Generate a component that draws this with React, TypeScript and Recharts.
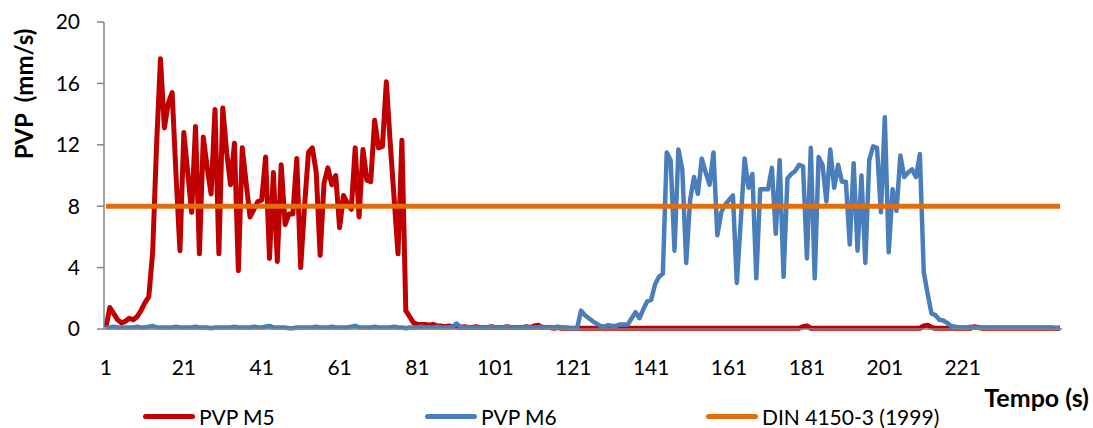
import { LineChart, Line, XAxis, YAxis, Label } from "recharts";

// PVP (mm/s) per second
const pvpM5 = [
  0.1, 1.4, 1.0, 0.6, 0.4, 0.5, 0.7, 0.6, 0.8, 1.2,
  1.7, 2.1, 5.0, 12.0, 17.6, 13.1, 14.7, 15.4, 10.0, 5.1,
  12.8, 10.2, 7.6, 13.2, 4.9, 12.5, 10.5, 8.8, 14.3, 4.9,
  14.4, 11.5, 9.4, 12.1, 3.8, 11.8, 9.5, 7.3, 7.8, 8.3,
  8.4, 11.2, 4.6, 10.2, 4.4, 10.7, 6.8, 7.5, 7.5, 11.1,
  4.0, 8.0, 11.5, 11.8, 10.2, 4.8, 9.5, 10.5, 9.4, 10.0,
  6.6, 8.7, 8.2, 7.8, 11.8, 7.3, 11.7, 9.7, 9.6, 13.6,
  11.8, 11.9, 16.1, 12.1, 8.5, 4.9, 12.3, 1.2, 0.8, 0.4,
  0.3, 0.3, 0.3, 0.25, 0.3, 0.2, 0.2, 0.15, 0.2, 0.15,
  0.15, 0.1, 0.15, 0.1, 0.1, 0.15, 0.1, 0.1, 0.1, 0.15,
  0.1, 0.1, 0.1, 0.15, 0.1, 0.1, 0.1, 0.1, 0.15, 0.1,
  0.2, 0.25, 0.1, 0.1, 0.1, 0.05, 0.1, 0.05, 0.05, 0.05,
  0.05, 0.05, 0.05, 0.05, 0.05, 0.05, 0.05, 0.05, 0.05, 0.05,
  0.05, 0.05, 0.05, 0.05, 0.05, 0.05, 0.05, 0.05, 0.05, 0.05,
  0.05, 0.05, 0.05, 0.05, 0.05, 0.05, 0.05, 0.05, 0.05, 0.05,
  0.05, 0.05, 0.05, 0.05, 0.05, 0.05, 0.05, 0.05, 0.05, 0.05,
  0.05, 0.05, 0.05, 0.05, 0.05, 0.05, 0.05, 0.05, 0.05, 0.05,
  0.05, 0.05, 0.05, 0.05, 0.05, 0.05, 0.05, 0.05, 0.05, 0.15,
  0.2, 0.05, 0.05, 0.05, 0.05, 0.05, 0.05, 0.05, 0.05, 0.05,
  0.05, 0.05, 0.05, 0.05, 0.05, 0.05, 0.05, 0.05, 0.05, 0.05,
  0.05, 0.05, 0.05, 0.05, 0.05, 0.05, 0.05, 0.05, 0.05, 0.05,
  0.2, 0.25, 0.1, 0.05, 0.05, 0.05, 0.05, 0.05, 0.05, 0.05,
  0.05, 0.05, 0.05, 0.15, 0.1, 0.05, 0.05, 0.05, 0.05, 0.05,
  0.05, 0.05, 0.05, 0.05, 0.05, 0.05, 0.05, 0.05, 0.05, 0.05,
  0.05, 0.05, 0.05, 0.05, 0.05, 0.05,
];

const pvpM6 = [
  0.1, 0.1, 0.15, 0.1, 0.1, 0.1, 0.1, 0.1, 0.15, 0.1,
  0.1, 0.15, 0.2, 0.1, 0.1, 0.1, 0.1, 0.1, 0.15, 0.1,
  0.1, 0.1, 0.1, 0.15, 0.1, 0.1, 0.1, 0.05, 0.1, 0.1,
  0.1, 0.1, 0.1, 0.15, 0.1, 0.1, 0.1, 0.1, 0.15, 0.1,
  0.1, 0.15, 0.2, 0.1, 0.1, 0.1, 0.1, 0.05, 0.05, 0.1,
  0.1, 0.1, 0.1, 0.1, 0.15, 0.1, 0.1, 0.1, 0.15, 0.1,
  0.1, 0.1, 0.1, 0.15, 0.2, 0.1, 0.1, 0.1, 0.1, 0.15,
  0.1, 0.1, 0.1, 0.1, 0.15, 0.1, 0.1, 0.05, 0.1, 0.1,
  0.1, 0.15, 0.1, 0.1, 0.1, 0.15, 0.1, 0.1, 0.1, 0.15,
  0.35, 0.15, 0.1, 0.1, 0.1, 0.1, 0.1, 0.1, 0.1, 0.15,
  0.1, 0.1, 0.1, 0.15, 0.1, 0.1, 0.1, 0.1, 0.15, 0.1,
  0.1, 0.1, 0.15, 0.1, 0.1, 0.1, 0.15, 0.1, 0.1, 0.05,
  0.05, 0.05, 1.2, 0.9, 0.7, 0.5, 0.35, 0.2, 0.15, 0.25,
  0.2, 0.2, 0.3, 0.3, 0.3, 0.7, 1.1, 0.7, 1.3, 1.8,
  1.9, 2.9, 3.4, 3.6, 11.5, 11.0, 5.1, 11.7, 10.4, 4.3,
  8.4, 9.9, 8.8, 11.1, 10.2, 9.4, 11.5, 6.1, 7.6, 8.1,
  8.4, 8.7, 3.0, 7.0, 11.1, 9.2, 10.1, 3.3, 9.1, 9.1,
  9.1, 10.5, 6.2, 11.0, 3.4, 9.8, 10.1, 10.3, 10.7, 10.6,
  4.6, 11.8, 3.3, 11.2, 10.7, 8.3, 11.7, 9.2, 10.7, 9.6,
  9.6, 5.5, 10.8, 5.1, 10.0, 4.3, 11.0, 11.9, 11.8, 7.6,
  13.8, 5.0, 9.1, 7.7, 11.3, 9.9, 10.2, 10.4, 9.9, 11.4,
  3.7, 2.3, 1.0, 0.9, 0.6, 0.55, 0.4, 0.2, 0.15, 0.1,
  0.1, 0.1, 0.15, 0.1, 0.1, 0.1, 0.1, 0.1, 0.1, 0.1,
  0.1, 0.1, 0.1, 0.1, 0.1, 0.1, 0.1, 0.1, 0.1, 0.1,
  0.1, 0.1, 0.1, 0.1, 0.05, 0.1,
];

const dinLimit = 8;

const xTicks = [1, 21, 41, 61, 81, 101, 121, 141, 161, 181, 201, 221];
const yTicks = [0, 4, 8, 12, 16, 20];

const seriesNames = ["PVP M5", "PVP M6", "DIN 4150-3 (1999)"];
const colors = ["#C00000", "#4A7EBB", "#E46C0A"];

const data = pvpM5.map((v, i) => ({
  t: i + 1,
  m5: v,
  m6: pvpM6[i],
  din: dinLimit,
}));

const font = "Lato, 'Open Sans', sans-serif";
const axisGray = "#868686";

export default function App() {
  const legendX = [143, 425, 706];
  return (
    <div
      style={{
        position: "absolute",
        left: 0,
        top: 0,
        width: 1093,
        height: 428,
        background: "#fff",
        fontFamily: font,
      }}
    >
      <LineChart
        width={1093}
        height={428}
        data={data}
        margin={{ top: 22, right: 31, left: 0, bottom: 0 }}
      >
        <XAxis
          dataKey="t"
          type="number"
          domain={[0.5, 246.5]}
          ticks={xTicks}
          interval={0}
          tickLine={false}
          tickSize={0}
          tickMargin={31}
          height={99}
          axisLine={{ stroke: axisGray, strokeWidth: 1.5 }}
          tick={{ fill: "#000", fontSize: 21, fontFamily: font }}
        >
          <Label
            content={() => (
              <text
                x={1089}
                y={407}
                textAnchor="end"
                fontFamily={font}
                fontSize={25}
                fontWeight="bold"
                fill="#000"
              >
                Tempo (s)
              </text>
            )}
          />
        </XAxis>
        <YAxis
          domain={[0, 20]}
          ticks={yTicks}
          interval={0}
          width={104}
          tickSize={7}
          tickMargin={17}
          axisLine={{ stroke: axisGray, strokeWidth: 1.5 }}
          tickLine={{ stroke: axisGray, strokeWidth: 1.5 }}
          tick={{ fill: "#000", fontSize: 21, fontFamily: font }}
        >
          <Label
            content={() => (
              <text
                transform="translate(23,94) rotate(-90)"
                textAnchor="middle"
                dominantBaseline="central"
                fontFamily={font}
                fontSize={24}
                fontWeight="bold"
                fill="#000"
                style={{ whiteSpace: "pre" }}
              >
                PVP  (mm/s)
              </text>
            )}
          />
        </YAxis>
        <Line
          dataKey="m5"
          name={seriesNames[0]}
          stroke={colors[0]}
          strokeWidth={5}
          dot={false}
          strokeLinejoin="round"
          isAnimationActive={false}
        />
        <Line
          dataKey="m6"
          name={seriesNames[1]}
          stroke={colors[1]}
          strokeWidth={4.5}
          dot={false}
          strokeLinejoin="round"
          isAnimationActive={false}
        />
        <Line
          dataKey="din"
          name={seriesNames[2]}
          stroke={colors[2]}
          strokeWidth={5}
          dot={false}
          isAnimationActive={false}
        />
      </LineChart>
      {seriesNames.map((name, i) => (
        <div
          key={name}
          style={{
            position: "absolute",
            left: legendX[i],
            top: 403,
            height: 26,
            display: "flex",
            alignItems: "center",
            fontSize: 21,
            whiteSpace: "nowrap",
          }}
        >
          <span
            style={{
              display: "inline-block",
              width: 52,
              height: 5,
              borderRadius: 3,
              background: colors[i],
              marginRight: 4,
            }}
          />
          {name}
        </div>
      ))}
    </div>
  );
}
